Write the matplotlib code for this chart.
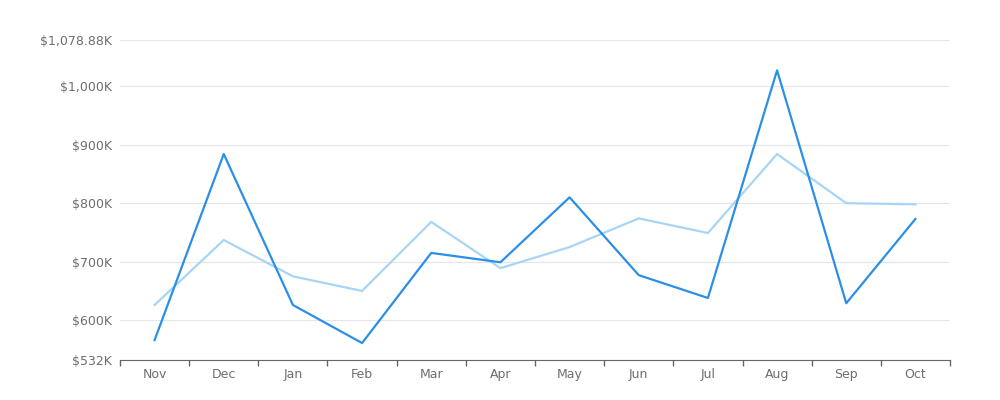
import matplotlib
matplotlib.use('Agg')
import matplotlib.pyplot as plt
import numpy as np
from matplotlib.ticker import FixedLocator

months = ['Nov', 'Dec', 'Jan', 'Feb', 'Mar', 'Apr', 'May', 'Jun', 'Jul', 'Aug', 'Sep', 'Oct']
# values in thousands of dollars
current = [566, 884, 626, 561, 715, 699, 810, 677, 638, 1027, 629, 773]
previous = [626, 737, 675, 650, 768, 689, 725, 774, 749, 884, 800, 798]
ytick_vals = [532, 600, 700, 800, 900, 1000, 1078.88]
ytick_labels = ['$532K', '$600K', '$700K', '$800K', '$900K', '$1,000K', '$1,078.88K']

fig = plt.figure(figsize=(10, 4), dpi=100)
ax = fig.add_axes([0.12, 0.1, 0.83, 0.8])

x = np.arange(len(months))
ax.plot(x, previous, color='#a9d5f5', lw=1.6)
ax.plot(x, current, color='#2b8fe8', lw=1.6)

ax.set_xlim(-0.5, len(months) - 0.5)
ax.set_ylim(ytick_vals[0], ytick_vals[-1])
ax.set_xticks(x)
ax.set_xticklabels(months)
ax.xaxis.set_minor_locator(FixedLocator(np.arange(-0.5, len(months), 1)))
ax.tick_params(axis='x', which='major', length=0, pad=6, labelsize=9, labelcolor='#6e6e6e')
ax.tick_params(axis='x', which='minor', length=4, color='#666666', width=1)
ax.set_yticks(ytick_vals)
ax.set_yticklabels(ytick_labels)
ax.tick_params(axis='y', length=0, pad=6, labelsize=9, labelcolor='#6e6e6e')

ax.grid(axis='y', color='#e2e6ec', lw=0.8)
ax.set_axisbelow(True)
for s in ['top', 'right', 'left']:
    ax.spines[s].set_visible(False)
ax.spines['bottom'].set_color('#666666')

fig.savefig('out.png', dpi=100)
